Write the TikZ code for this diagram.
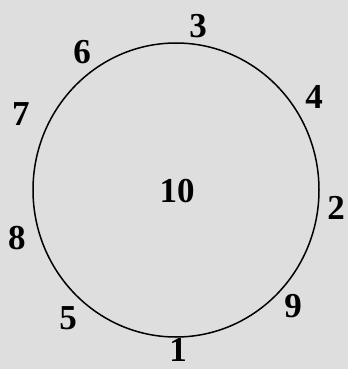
\documentclass[tikz,border=0pt]{standalone}
\usepackage{fontspec}
\setmainfont{Liberation Serif}
\definecolor{paper}{RGB}{222,222,222}

\begin{document}
\begin{tikzpicture}[x=1pt,y=-1pt,
  num/.style={font=\fontsize{35}{35}\selectfont\bfseries, inner sep=0pt}]
\fill[paper] (0,0) rectangle (348,369);
\useasboundingbox (0,0) rectangle (348,369);
\draw[line width=1.5pt] (176,190) ellipse [x radius=143, y radius=147];
\foreach \n/\x/\y in {1/178/350, 2/336/208, 3/198/26, 4/314/97, 5/68/318,
                      6/82/52, 7/21/114, 8/17/238, 9/293/306, 10/177/191}{
  \node[num] (n\n) at (\x,\y) {\n};
}
\end{tikzpicture}
\end{document}
